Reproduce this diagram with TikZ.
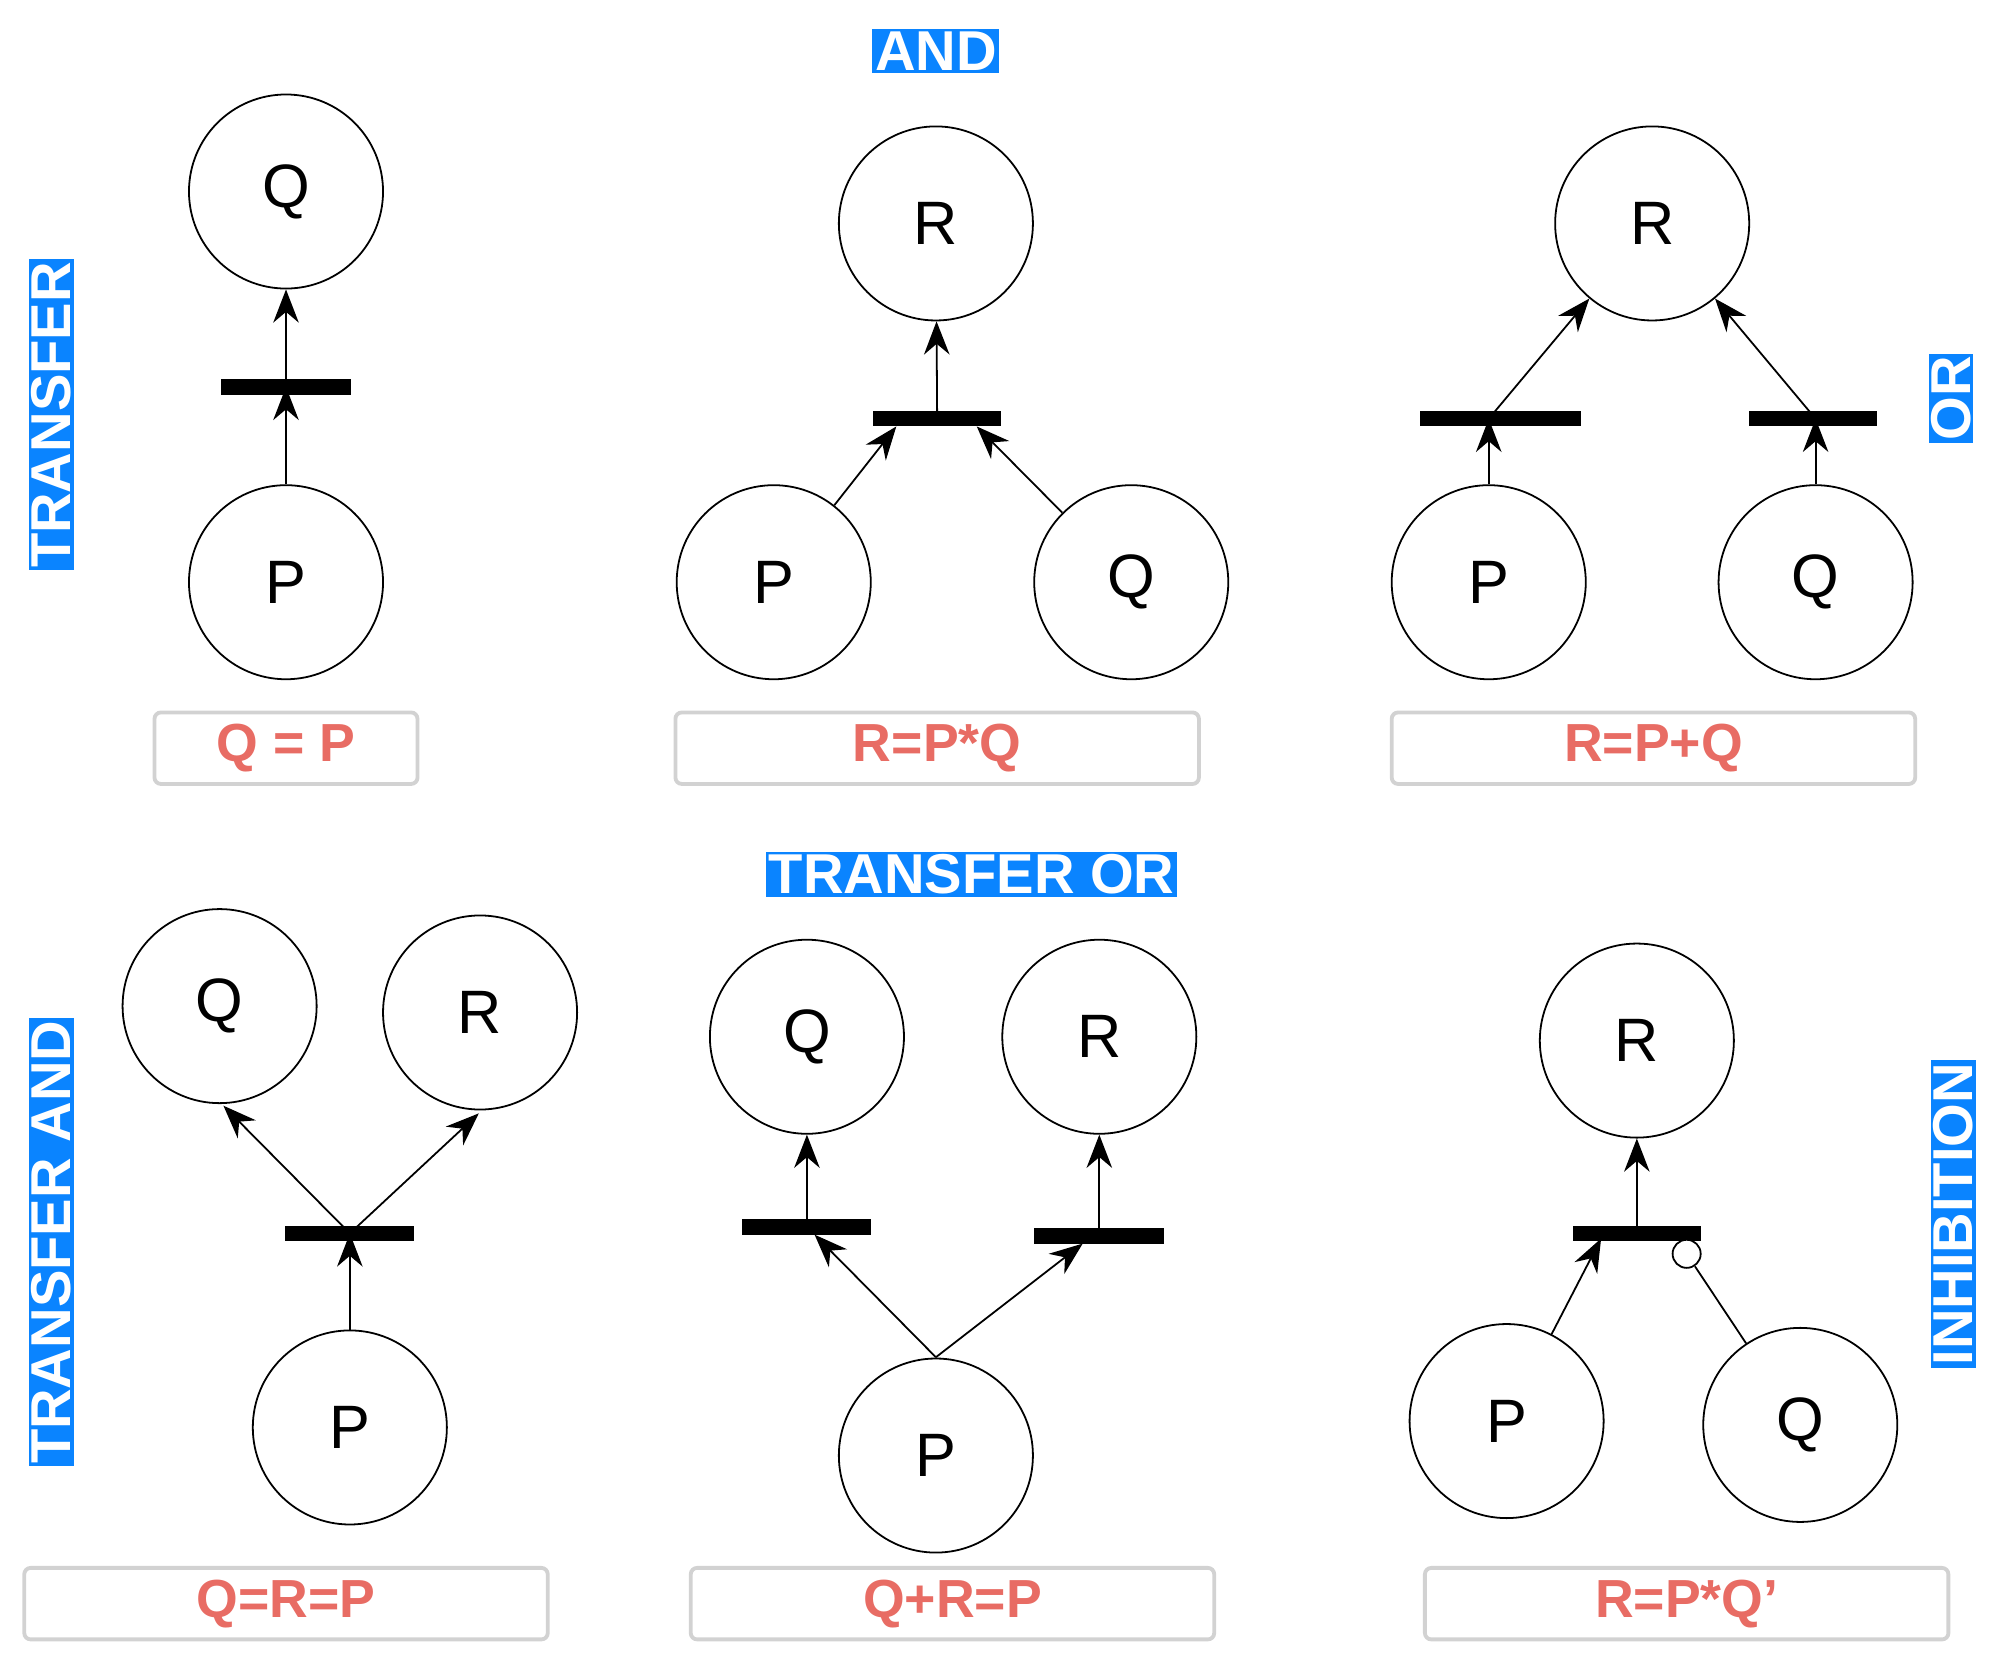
\documentclass[tikz,border=0pt]{standalone}
\usepackage{fontspec}
\setmainfont{Liberation Sans}
\usetikzlibrary{arrows.meta}
\definecolor{lblue}{RGB}{10,132,255}
\definecolor{lred}{RGB}{232,108,100}
\tikzset{
 pl/.style={circle,draw,line width=1.4pt,minimum size=152pt,inner sep=0pt,font=\fontsize{48}{56}\selectfont},
 bar/.style={rectangle,fill=black,inner sep=0pt,minimum height=12pt},
 arr/.style={line width=1.4pt,-{Stealth[length=26pt,width=20pt]}},
 ln/.style={line width=1.4pt},
 tag/.style={fill=lblue,text=white,font=\fontsize{44}{50}\selectfont\bfseries,inner sep=2pt},
 eq/.style={draw=gray!35,line width=3pt,rounded corners=5pt,minimum height=56pt,text=lred,font=\fontsize{42}{48}\selectfont\bfseries},
}
\begin{document}
\begin{tikzpicture}[x=1pt,y=-1pt]
\useasboundingbox (0,0) rectangle (1568,1306);
% Panel 1
\node[pl] (q1) at (224,150) {Q};
\node[pl] (p1) at (224,456) {P};
\node[bar,minimum width=102pt] (b1) at (224,303) {};
\draw[arr] (p1) -- (b1.center);
\draw[arr] (b1.center) -- (q1);
\node[eq,minimum width=206pt] (e1) at (224,586) {Q = P};
\node[tag,rotate=90] (t1) at (40,325) {TRANSFER};
% Panel 2
\node[tag] (t2) at (733,40) {AND};
\node[pl] (r2) at (733,175) {R};
\node[pl] (p2) at (606,456) {P};
\node[pl] (q2) at (886,456) {Q};
\node[bar,minimum width=100pt] (b2) at (734,328) {};
\coordinate (b2l) at (702,334);
\coordinate (b2r) at (765,334);
\draw[arr] (p2) -- (b2l);
\draw[arr] (q2) -- (b2r);
\draw[arr] (b2.center) -- (r2);
\node[eq,minimum width=410pt] (e2) at (734,586) {R=P*Q};
% Panel 3
\node[pl] (r3) at (1294,175) {R};
\node[pl] (p3) at (1166,456) {P};
\node[pl] (q3) at (1422,456) {Q};
\node[bar,minimum width=126pt] (b3a) at (1175,328) {};
\node[bar,minimum width=100pt] (b3b) at (1420,328) {};
\coordinate (b3al) at (1166,328);
\coordinate (b3br) at (1422,328);
\draw[arr] (p3) -- (b3al);
\draw[arr] (q3) -- (b3br);
\draw[arr] (b3al) -- (r3);
\draw[arr] (b3br) -- (r3);
\node[eq,minimum width=410pt] (e3) at (1295,586) {R=P+Q};
\node[tag,rotate=90] (t3) at (1528,312) {OR};
% Panel 4
\node[pl] (q4) at (172,788) {Q};
\node[pl] (r4) at (376,793) {R};
\node[pl] (p4) at (274,1118) {P};
\node[bar,minimum width=101pt] (b4) at (274,966) {};
\coordinate (q4e) at (175,866);
\coordinate (r4e) at (375,872);
\draw[arr] (p4) -- (b4.center);
\draw[arr] (b4.center) -- (q4e);
\draw[arr] (b4.center) -- (r4e);
\node[eq,minimum width=410pt] (e4) at (224,1256) {Q=R=P};
\node[tag,rotate=90] (t4) at (40,973) {TRANSFER AND};
% Panel 5
\node[tag] (t5) at (761,685) {TRANSFER OR};
\node[pl] (q5) at (632,812) {Q};
\node[pl] (r5) at (861,812) {R};
\node[pl] (p5) at (733,1140) {P};
\node[bar,minimum width=101pt] (b5a) at (632,961) {};
\node[bar,minimum width=102pt] (b5b) at (861,968) {};
\coordinate (p5t) at (733,1063);
\coordinate (b5al) at (638,967);
\coordinate (b5br) at (848,974);
\draw[arr] (p5t) -- (b5al);
\draw[arr] (p5t) -- (b5br);
\draw[arr] (b5a.center) -- (q5);
\draw[arr] (b5b.center) -- (r5);
\node[eq,minimum width=410pt] (e5) at (746,1256) {Q+R=P};
% Panel 6
\node[pl] (r6) at (1282,815) {R};
\node[pl] (p6) at (1180,1113) {P};
\node[pl] (q6) at (1410,1116) {Q};
\node[bar,minimum width=100pt] (b6) at (1282,966) {};
\coordinate (b6l) at (1254,970);
\node[circle,draw,fill=white,line width=1.4pt,minimum size=22pt,inner sep=0pt] (inh) at (1321,982) {};
\draw[arr] (p6) -- (b6l);
\draw[ln] (q6) -- (inh);
\draw[arr] (b6.center) -- (r6);
\node[eq,minimum width=410pt] (e6) at (1321,1256) {R=P*Q\char"27};
\node[tag,rotate=90] (t6) at (1530,951) {INHIBITION};
\end{tikzpicture}
\end{document}
